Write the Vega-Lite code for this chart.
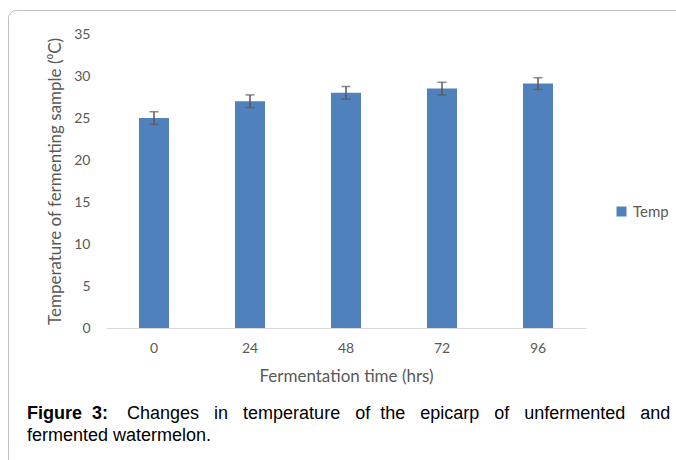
{
  "$schema": "https://vega.github.io/schema/vega-lite/v6.json",
  "width": 678,
  "height": 460,
  "autosize": {"type": "none"},
  "padding": {"left": 8, "top": 10, "right": -10, "bottom": -10},
  "background": "#ffffff",
  "config": {
    "view": {"stroke": "#bfbfbf", "strokeWidth": 1, "cornerRadius": 8},
    "axis": {"labelFont": "Lato", "titleFont": "Lato", "labelColor": "#595959", "titleColor": "#595959", "titleFontWeight": "normal"}
  },
  "title": {
    "text": "Figure\u00a0\u00a03:",
    "subtitle": [
      "\u200b\u00a0\u00a0\u00a0\u00a0\u00a0\u00a0\u00a0\u00a0\u00a0\u00a0\u00a0\u00a0\u00a0\u00a0\u00a0\u00a0\u00a0\u00a0\u00a0\u00a0Changes\u00a0\u00a0\u00a0in\u00a0\u00a0\u00a0temperature\u00a0\u00a0\u00a0of\u00a0\u00a0the\u00a0\u00a0\u00a0epicarp\u00a0\u00a0\u00a0of\u00a0\u00a0\u00a0unfermented\u00a0\u00a0\u00a0and",
      "fermented watermelon."
    ],
    "orient": "bottom",
    "anchor": "start",
    "frame": "group",
    "offset": -65,
    "dx": 19,
    "baseline": "top",
    "font": "Liberation Sans",
    "fontSize": 18,
    "fontWeight": "bold",
    "color": "#000000",
    "subtitleFont": "Liberation Sans",
    "subtitleFontSize": 18,
    "subtitleColor": "#000000",
    "subtitlePadding": -18,
    "subtitleLineHeight": 22
  },
  "data": {
    "values": [
      {"time": "0", "temp": 25.0, "lo": 24.25, "hi": 25.75, "series": "Temp"},
      {"time": "24", "temp": 27.0, "lo": 26.25, "hi": 27.75, "series": "Temp"},
      {"time": "48", "temp": 28.0, "lo": 27.25, "hi": 28.75, "series": "Temp"},
      {"time": "72", "temp": 28.5, "lo": 27.75, "hi": 29.25, "series": "Temp"},
      {"time": "96", "temp": 29.1, "lo": 28.4, "hi": 29.8, "series": "Temp"}
    ]
  },
  "encoding": {
    "x": {
      "field": "time",
      "type": "ordinal",
      "sort": null,
      "scale": {"range": [98, 578], "paddingInner": 0.6875, "paddingOuter": 0.34375},
      "axis": {
        "orient": "bottom",
        "offset": -142,
        "title": "Fermentation time (hrs)",
        "titleFontSize": 17,
        "titlePadding": 13,
        "labelAngle": 0,
        "labelFontSize": 14,
        "labelPadding": 13,
        "ticks": false,
        "domainColor": "#d9d9d9",
        "domainWidth": 1,
        "grid": false
      }
    }
  },
  "layer": [
    {
      "mark": {"type": "bar"},
      "encoding": {
        "y": {
          "field": "temp",
          "type": "quantitative",
          "title": "Temperature of fermenting sample (\u2070C)",
          "scale": {"domain": [0, 35], "range": [318, 24], "nice": false, "zero": true},
          "axis": {
            "orient": "left",
            "offset": -98,
            "values": [0, 5, 10, 15, 20, 25, 30, 35],
            "domain": false,
            "ticks": false,
            "grid": false,
            "labelFontSize": 14,
            "labelPadding": 16,
            "title": "Temperature of fermenting sample (\u2070C)",
            "titleFontSize": 17,
            "titlePadding": 9
          }
        },
        "color": {
          "field": "series",
          "type": "nominal",
          "scale": {"range": ["#4f81bd"]},
          "legend": {
            "orient": "none",
            "legendX": 606,
            "legendY": 194,
            "title": null,
            "symbolType": "square",
            "symbolSize": 100,
            "symbolStrokeWidth": 0,
            "labelFont": "Lato",
            "labelFontSize": 15,
            "labelColor": "#595959",
            "padding": 0
          }
        }
      }
    },
    {
      "mark": {"type": "errorbar", "ticks": {"size": 9, "thickness": 1.5}, "color": "#595959", "thickness": 1.5},
      "encoding": {
        "y": {"field": "lo", "type": "quantitative", "title": "Temperature of fermenting sample (\u2070C)"},
        "y2": {"field": "hi"}
      }
    }
  ]
}
